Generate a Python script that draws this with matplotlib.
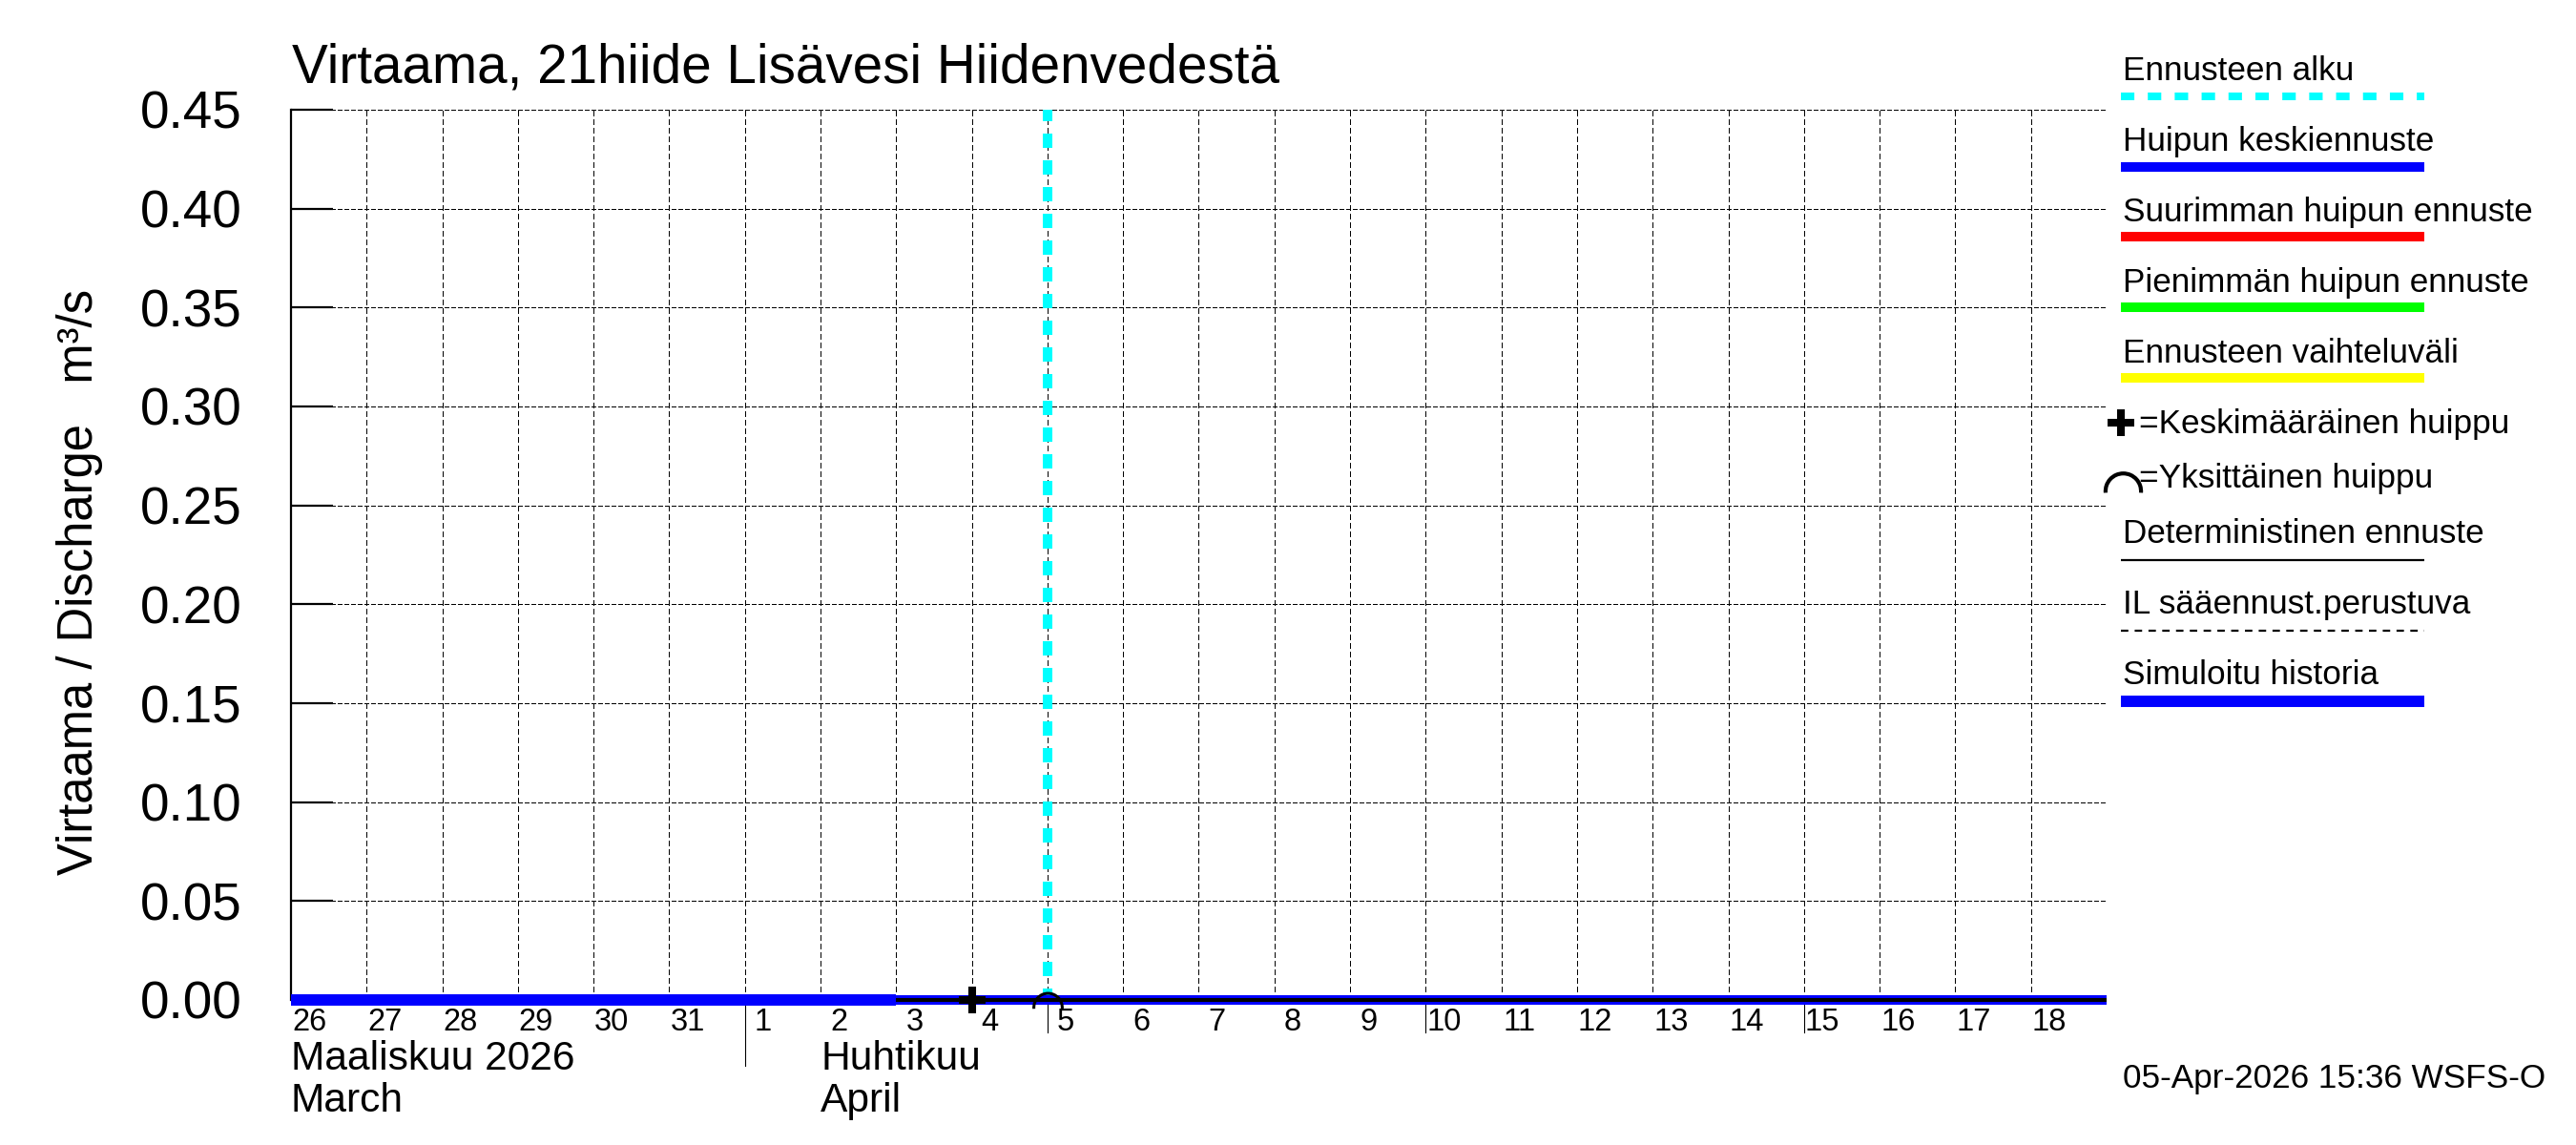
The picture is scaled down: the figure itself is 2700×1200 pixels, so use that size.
import numpy as np
import pandas as pd
import matplotlib
matplotlib.use("Agg")
import matplotlib.pyplot as plt
import matplotlib.dates as mdates
from matplotlib.lines import Line2D
from matplotlib.path import Path

plt.rcParams['font.family'] = ['Liberation Sans', 'DejaVu Sans']

# --- data ---
hist_dates = ["2026-03-26", "2026-03-27", "2026-03-28", "2026-03-29", "2026-03-30",
              "2026-03-31", "2026-04-01", "2026-04-02", "2026-04-03"]
hist_q = [0.0, 0.0, 0.0, 0.0, 0.0, 0.0, 0.0, 0.0, 0.0]

fc_dates = ["2026-04-03", "2026-04-05", "2026-04-07", "2026-04-09", "2026-04-11",
            "2026-04-13", "2026-04-15", "2026-04-17", "2026-04-19"]
mean_peak_fc = [0.0, 0.0, 0.0, 0.0, 0.0, 0.0, 0.0, 0.0, 0.0]
det_fc = [0.0, 0.0, 0.0, 0.0, 0.0, 0.0, 0.0, 0.0, 0.0]

forecast_start = "2026-04-05 00:00"
mean_peak_date, mean_peak_q = "2026-04-04 00:00", 0.0
single_peak_date, single_peak_q = "2026-04-05 00:00", 0.0

x_start, x_end = "2026-03-26", "2026-04-19"
y_ticks = [0.00, 0.05, 0.10, 0.15, 0.20, 0.25, 0.30, 0.35, 0.40, 0.45]
five_day_ticks = ["2026-04-05", "2026-04-10", "2026-04-15"]
month_start = "2026-04-01"
month_labels = [("2026-03-26", "Maaliskuu 2026", "March"),
                ("2026-04-02", "Huhtikuu", "April")]

title = "Virtaama, 21hiide Lisävesi Hiidenvedestä"
ylabel = "Virtaama / Discharge   m³/s"
stamp = "05-Apr-2026 15:36 WSFS-O"

legend_items = [
    ("Ennusteen alku", "#00ffff", "cyan"),
    ("Huipun keskiennuste", "#0000ff", "solid"),
    ("Suurimman huipun ennuste", "#ff0000", "solid"),
    ("Pienimmän huipun ennuste", "#00ff00", "solid"),
    ("Ennusteen vaihteluväli", "#ffff00", "solid"),
    ("=Keskimääräinen huippu", "black", "plus"),
    ("=Yksittäinen huippu", "black", "arc"),
    ("Deterministinen ennuste", "black", "thin"),
    ("IL sääennust.perustuva", "black", "thindash"),
    ("Simuloitu historia", "#0000ff", "thick"),
]

W, H = 2700, 1200
def fx(px):
    return px / W
def fy(py):
    return 1 - py / H
def dn(s):
    return mdates.date2num(pd.Timestamp(s))

fig = plt.figure(figsize=(27, 12), dpi=100)
ax = fig.add_axes([fx(305), fy(1048), fx(2208) - fx(305), fy(115) - fy(1048)])

x0, x1 = dn(x_start), dn(x_end)
ax.set_xlim(x0, x1)
ax.set_ylim(0, 0.45)

# grid
days = np.arange(x0 + 1, x1 + 0.5, 1.0)
ax.vlines(days, 0, 0.45, colors="black", linestyles=(0, (5, 3)), linewidth=0.75,
          antialiased=False, zorder=1)
ax.hlines(y_ticks[1:], x0, x1, colors="black", linestyles=(0, (4.5, 2.5)), linewidth=0.75,
          antialiased=False, zorder=1)

for s in ["top", "right", "bottom"]:
    ax.spines[s].set_visible(False)
ax.spines["left"].set_linewidth(1.6)

ax.set_yticks(y_ticks)
ax.set_yticklabels([f"{v:.2f}" for v in y_ticks], fontsize=39.5)
ax.tick_params(axis="y", direction="in", length=32, width=1.6, pad=37)
ax.set_xticks([])

# series
ax.plot([dn(d) for d in hist_dates], hist_q, color="#0000ff", lw=8.6,
        solid_capstyle="butt", clip_on=False, zorder=4)
ax.plot([dn(d) for d in fc_dates], mean_peak_fc, color="#0000ff", lw=7.2,
        solid_capstyle="butt", clip_on=False, zorder=4)
ax.plot([dn(d) for d in fc_dates], det_fc, color="black", lw=2.9,
        solid_capstyle="butt", clip_on=False, zorder=5)

fs = dn(forecast_start)
ax.plot([fs, fs], [0, 0.45], color="#00ffff", lw=7.2, linestyle=(0.3, (1.5, 1.3)),
        clip_on=False, zorder=3)

ax.plot([dn(mean_peak_date)], [mean_peak_q], marker="+", color="black",
        markersize=19.5, markeredgewidth=5.8, clip_on=False, zorder=6)

arc = Path.arc(-5, 185)
arc_path = Path(arc.vertices - np.array([0, 0.5]), arc.codes)
ax.plot([dn(single_peak_date)], [single_peak_q], marker=arc_path, color="black",
        markersize=21.6, markeredgewidth=2.2, markerfacecolor="none",
        linestyle="none", clip_on=False, zorder=6)

# x labels
xt = ax.get_xaxis_transform()
for d in np.arange(x0, x1, 1.0):
    ax.annotate(str(mdates.num2date(d).day), xy=(d + 0.24, 0), xycoords=xt,
                xytext=(0, -23), textcoords="offset points", ha="center", va="baseline",
                fontsize=23.5)
for d in five_day_ticks:
    ax.plot([dn(d)] * 2, [0, -34 / 933], transform=xt, color="black",
            lw=0.8, clip_on=False)
ax.plot([dn(month_start)] * 2, [0, -69 / 933], transform=xt, color="black",
        lw=0.8, clip_on=False)
for d, fi, en in month_labels:
    ax.annotate(fi, xy=(dn(d), 0), xycoords=xt, xytext=(0, -52.5),
                textcoords="offset points", ha="left", va="baseline", fontsize=30.6)
    ax.annotate(en, xy=(dn(d), 0), xycoords=xt, xytext=(0, -84),
                textcoords="offset points", ha="left", va="baseline", fontsize=30.6)

# texts
fig.text(fx(306), fy(87), title, fontsize=40.8, ha="left", va="baseline")
fig.text(fx(84), fy(610), ylabel, fontsize=36.5, rotation=90, ha="center", va="center")
fig.text(fx(2225), fy(1140), stamp, fontsize=25.3, ha="left", va="baseline")

# legend
base_y = [84, 158, 232, 306, 380, 454, 511, 569, 643, 717]
line_y = [100.5, 175, 248, 322, 396, None, None, 587, 661, 735]
lx0, lx1 = fx(2223), fx(2541)
for (label, col, kind), by, ly in zip(legend_items, base_y, line_y):
    if kind in ("plus", "arc"):
        fig.text(fx(2242), fy(by), label, fontsize=25.3, ha="left", va="baseline")
        if kind == "plus":
            fig.add_artist(Line2D([fx(2223)], [fy(by - 11)], marker="+", color=col,
                                  markersize=19.5, markeredgewidth=5.8,
                                  transform=fig.transFigure))
        else:
            fig.add_artist(Line2D([fx(2225)], [fy(by - 6)], marker=arc_path, color=col,
                                  markersize=27, markeredgewidth=3.0, markerfacecolor="none",
                                  transform=fig.transFigure))
        continue
    fig.text(fx(2225), fy(by), label, fontsize=25.3, ha="left", va="baseline")
    if kind == "cyan":
        kw = dict(lw=5.8, linestyle=(0, (1.75, 1.75)))
    elif kind == "solid":
        kw = dict(lw=7.2, solid_capstyle="butt")
    elif kind == "thick":
        kw = dict(lw=8.6, solid_capstyle="butt")
    elif kind == "thin":
        kw = dict(lw=1.6, solid_capstyle="butt")
    else:
        kw = dict(lw=1.6, linestyle=(0, (3.5, 3)))
    fig.add_artist(Line2D([lx0, lx1], [fy(ly), fy(ly)], color=col,
                          transform=fig.transFigure, **kw))

fig.savefig("out.png", dpi=100, facecolor="white")
